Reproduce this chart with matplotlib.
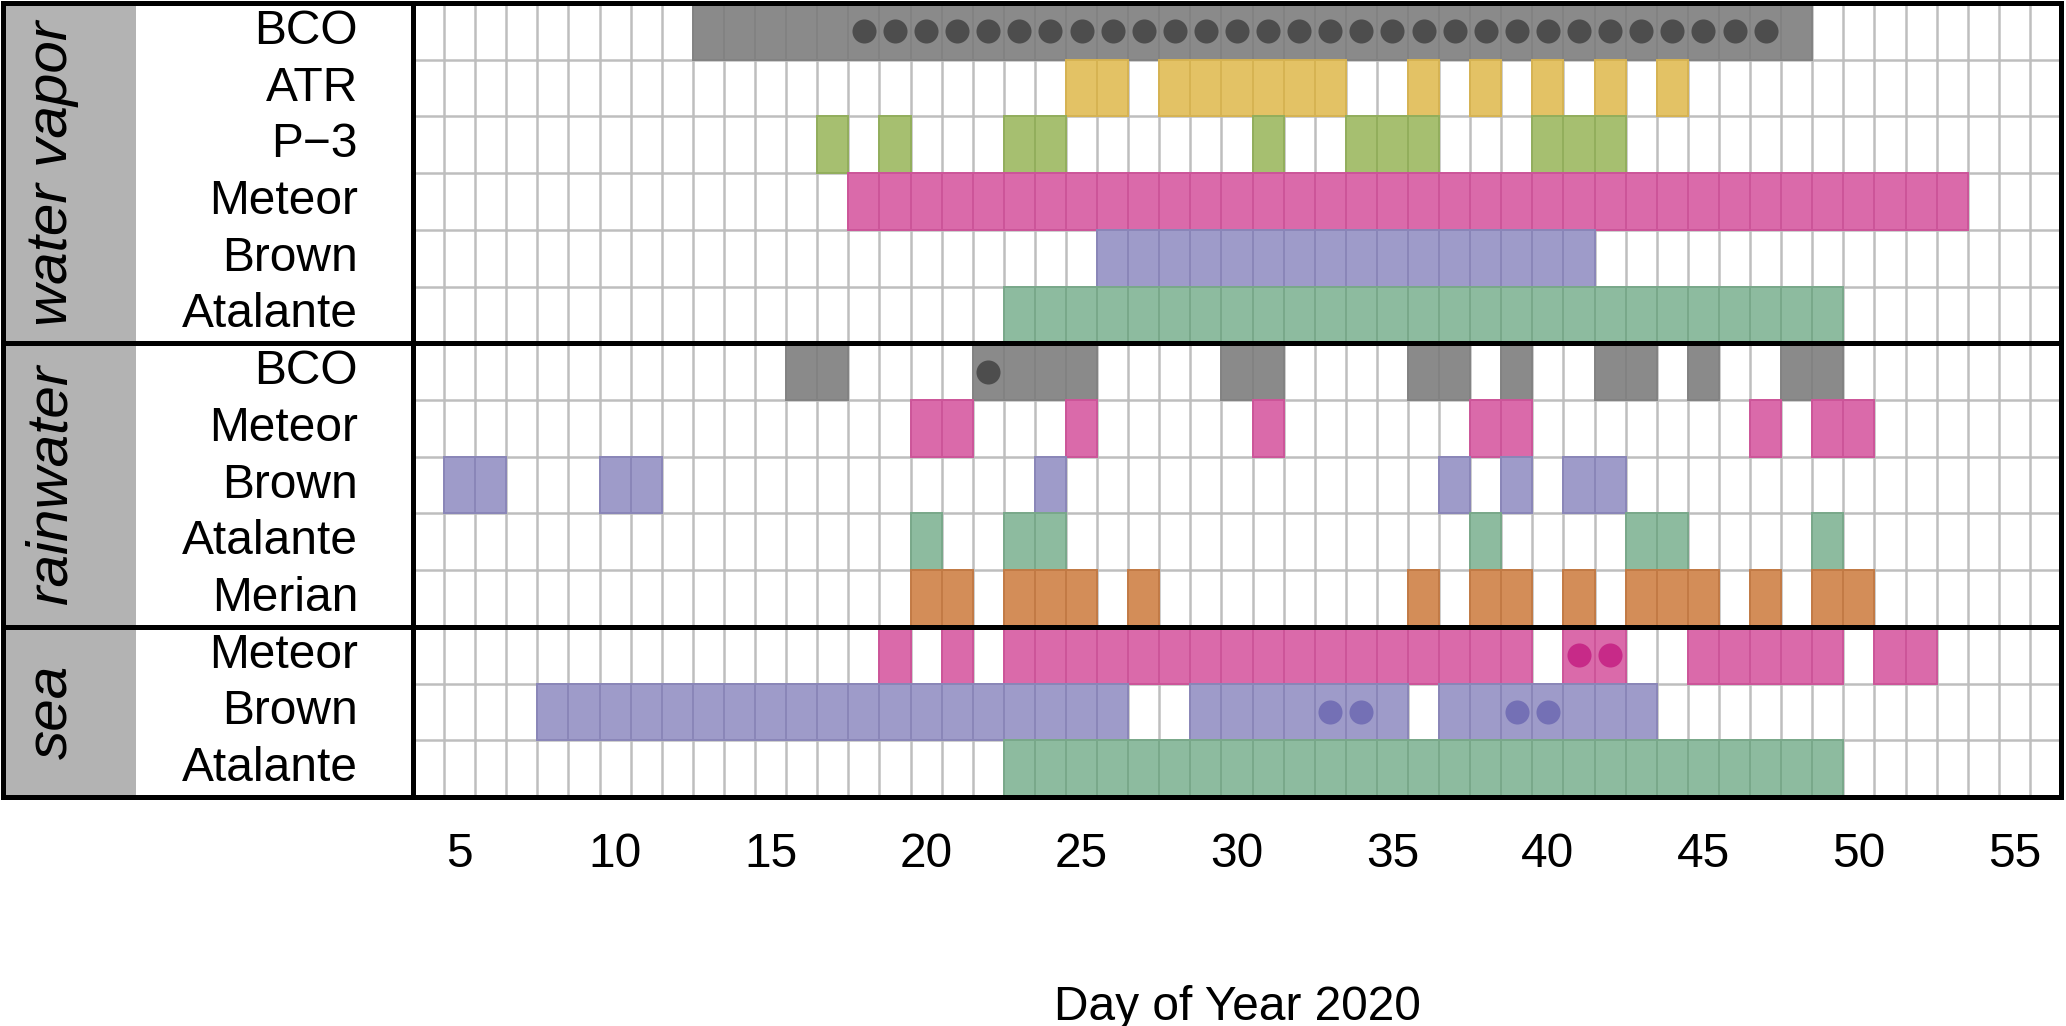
import numpy as np
import matplotlib.pyplot as plt

plt.rcParams['font.family'] = ['Liberation Sans', 'DejaVu Sans']

# platform colours (fill, edge)
fill = {'BCO': '#8a8a8a', 'ATR': '#e3c265', 'P-3': '#a6bf70', 'Meteor': '#da6aaa',
        'Brown': '#9e9bc9', 'Atalante': '#8dbb9f', 'Merian': '#d38d58'}
edge = {'BCO': '#828282', 'ATR': '#d6b352', 'P-3': '#92ae5c', 'Meteor': '#cc5599',
        'Brown': '#8a86b8', 'Atalante': '#79a88a', 'Merian': '#c27a45'}
dot_col = {'BCO': '#4d4d4d', 'Meteor': '#c72a88', 'Brown': '#7470b5'}

# ---- data: sampling days per platform, top to bottom ----
groups = ['water vapor', 'rainwater', 'sea']
group_rows = [6, 5, 3]

row_names = ['BCO', 'ATR', 'P-3', 'Meteor', 'Brown', 'Atalante',
             'BCO', 'Meteor', 'Brown', 'Atalante', 'Merian',
             'Meteor', 'Brown', 'Atalante']
row_labels = ['BCO', 'ATR', 'P\u22123', 'Meteor', 'Brown', 'Atalante',
              'BCO', 'Meteor', 'Brown', 'Atalante', 'Merian',
              'Meteor', 'Brown', 'Atalante']

wv_bco = [13, 14, 15, 16, 17, 18, 19, 20, 21, 22, 23, 24, 25, 26, 27, 28, 29, 30,
          31, 32, 33, 34, 35, 36, 37, 38, 39, 40, 41, 42, 43, 44, 45, 46, 47, 48]
wv_atr = [25, 26, 28, 29, 30, 31, 32, 33, 36, 38, 40, 42, 44]
wv_p3 = [17, 19, 23, 24, 31, 34, 35, 36, 40, 41, 42]
wv_meteor = [18, 19, 20, 21, 22, 23, 24, 25, 26, 27, 28, 29, 30, 31, 32, 33, 34, 35,
             36, 37, 38, 39, 40, 41, 42, 43, 44, 45, 46, 47, 48, 49, 50, 51, 52, 53]
wv_brown = [26, 27, 28, 29, 30, 31, 32, 33, 34, 35, 36, 37, 38, 39, 40, 41]
wv_atalante = [23, 24, 25, 26, 27, 28, 29, 30, 31, 32, 33, 34, 35, 36, 37, 38, 39,
               40, 41, 42, 43, 44, 45, 46, 47, 48, 49]
rw_bco = [16, 17, 22, 23, 24, 25, 30, 31, 36, 37, 39, 42, 43, 45, 48, 49]
rw_meteor = [20, 21, 25, 31, 38, 39, 47, 49, 50]
rw_brown = [5, 6, 10, 11, 24, 37, 39, 41, 42]
rw_atalante = [20, 23, 24, 38, 43, 44, 49]
rw_merian = [20, 21, 23, 24, 25, 27, 36, 38, 39, 41, 43, 44, 45, 47, 49, 50]
sea_meteor = [19, 21, 23, 24, 25, 26, 27, 28, 29, 30, 31, 32, 33, 34, 35, 36, 37, 38,
              39, 41, 42, 45, 46, 47, 48, 49, 51, 52]
sea_brown = [8, 9, 10, 11, 12, 13, 14, 15, 16, 17, 18, 19, 20, 21, 22, 23, 24, 25, 26,
             29, 30, 31, 32, 33, 34, 35, 37, 38, 39, 40, 41, 42, 43]
sea_atalante = [23, 24, 25, 26, 27, 28, 29, 30, 31, 32, 33, 34, 35, 36, 37, 38, 39,
                40, 41, 42, 43, 44, 45, 46, 47, 48, 49]

# days marked with a dot (extra samples)
wv_bco_dots = [18, 19, 20, 21, 22, 23, 24, 25, 26, 27, 28, 29, 30, 31, 32, 33, 34,
               35, 36, 37, 38, 39, 40, 41, 42, 43, 44, 45, 46, 47]
rw_bco_dots = [22]
sea_meteor_dots = [41, 42]
sea_brown_dots = [33, 34, 39, 40]

row_days = [wv_bco, wv_atr, wv_p3, wv_meteor, wv_brown, wv_atalante,
            rw_bco, rw_meteor, rw_brown, rw_atalante, rw_merian,
            sea_meteor, sea_brown, sea_atalante]
row_dots = {0: wv_bco_dots, 6: rw_bco_dots, 11: sea_meteor_dots, 12: sea_brown_dots}

day_ticks = [5, 10, 15, 20, 25, 30, 35, 40, 45, 50, 55]
day_min, day_max = 4, 56

# ---- figure ----
W, H = 2066, 1026
fig = plt.figure(figsize=(W / 100, H / 100), dpi=100)


def box(l, r, t, b):
    return [l / W, 1 - b / H, (r - l) / W, (b - t) / H]


ax = fig.add_axes(box(413, 2061, 3, 797))
side = fig.add_axes(box(3, 413, 3, 797))
nrows = len(row_names)

# grid of day cells
ax.set_xlim(day_min - 0.5, day_max + 0.5)
ax.set_ylim(nrows, 0)
ax.set_xticks(np.arange(day_min - 0.5, day_max + 1), minor=True)
ax.set_yticks(np.arange(0, nrows + 1), minor=True)
ax.grid(which='minor', color='#bebebe', lw=1.8)
ax.set_axisbelow(True)

for i, (name, days) in enumerate(zip(row_names, row_days)):
    ax.bar(days, 1, bottom=i, width=1, color=fill[name], edgecolor=edge[name],
           lw=1.4, zorder=2)
    if i in row_dots:
        ax.scatter(row_dots[i], np.full(len(row_dots[i]), i + 0.5), s=300,
                   color=dot_col[name], lw=0, zorder=3)

ax.set_xticks(day_ticks)
ax.set_yticks([])
ax.tick_params(axis='x', which='both', length=0, pad=25, labelsize=34.5)
ax.tick_params(axis='y', which='both', length=0)
ax.set_xlabel('Day of Year 2020', fontsize=34.5, labelpad=78)
for s in ax.spines.values():
    s.set_linewidth(3.6)

# strip + row labels on the left
side.set_xlim(3, 413)
side.set_ylim(nrows, 0)
side.axis('off')
side.axvspan(5, 136, color='#b3b3b3', lw=0)
start = 0
for g, n in zip(groups, group_rows):
    side.text(52, start + n / 2, g, rotation=90, ha='center', va='center',
              style='italic', fontsize=42)
    start += n
for i, lab in enumerate(row_labels):
    side.text(358, i + 0.5, lab, ha='right', va='center', fontsize=34.5)

# panel separators and outer frame
for y in np.cumsum(group_rows)[:-1]:
    ax.axhline(y, color='k', lw=3.6, zorder=5)
    side.axhline(y, color='k', lw=3.6, zorder=5)
side.plot([3, 3], [0, nrows], color='k', lw=3.6, clip_on=False)
side.plot([3, 413], [0, 0], color='k', lw=3.6, clip_on=False)
side.plot([3, 413], [nrows, nrows], color='k', lw=3.6, clip_on=False)

fig.savefig('out.png', dpi=100)
